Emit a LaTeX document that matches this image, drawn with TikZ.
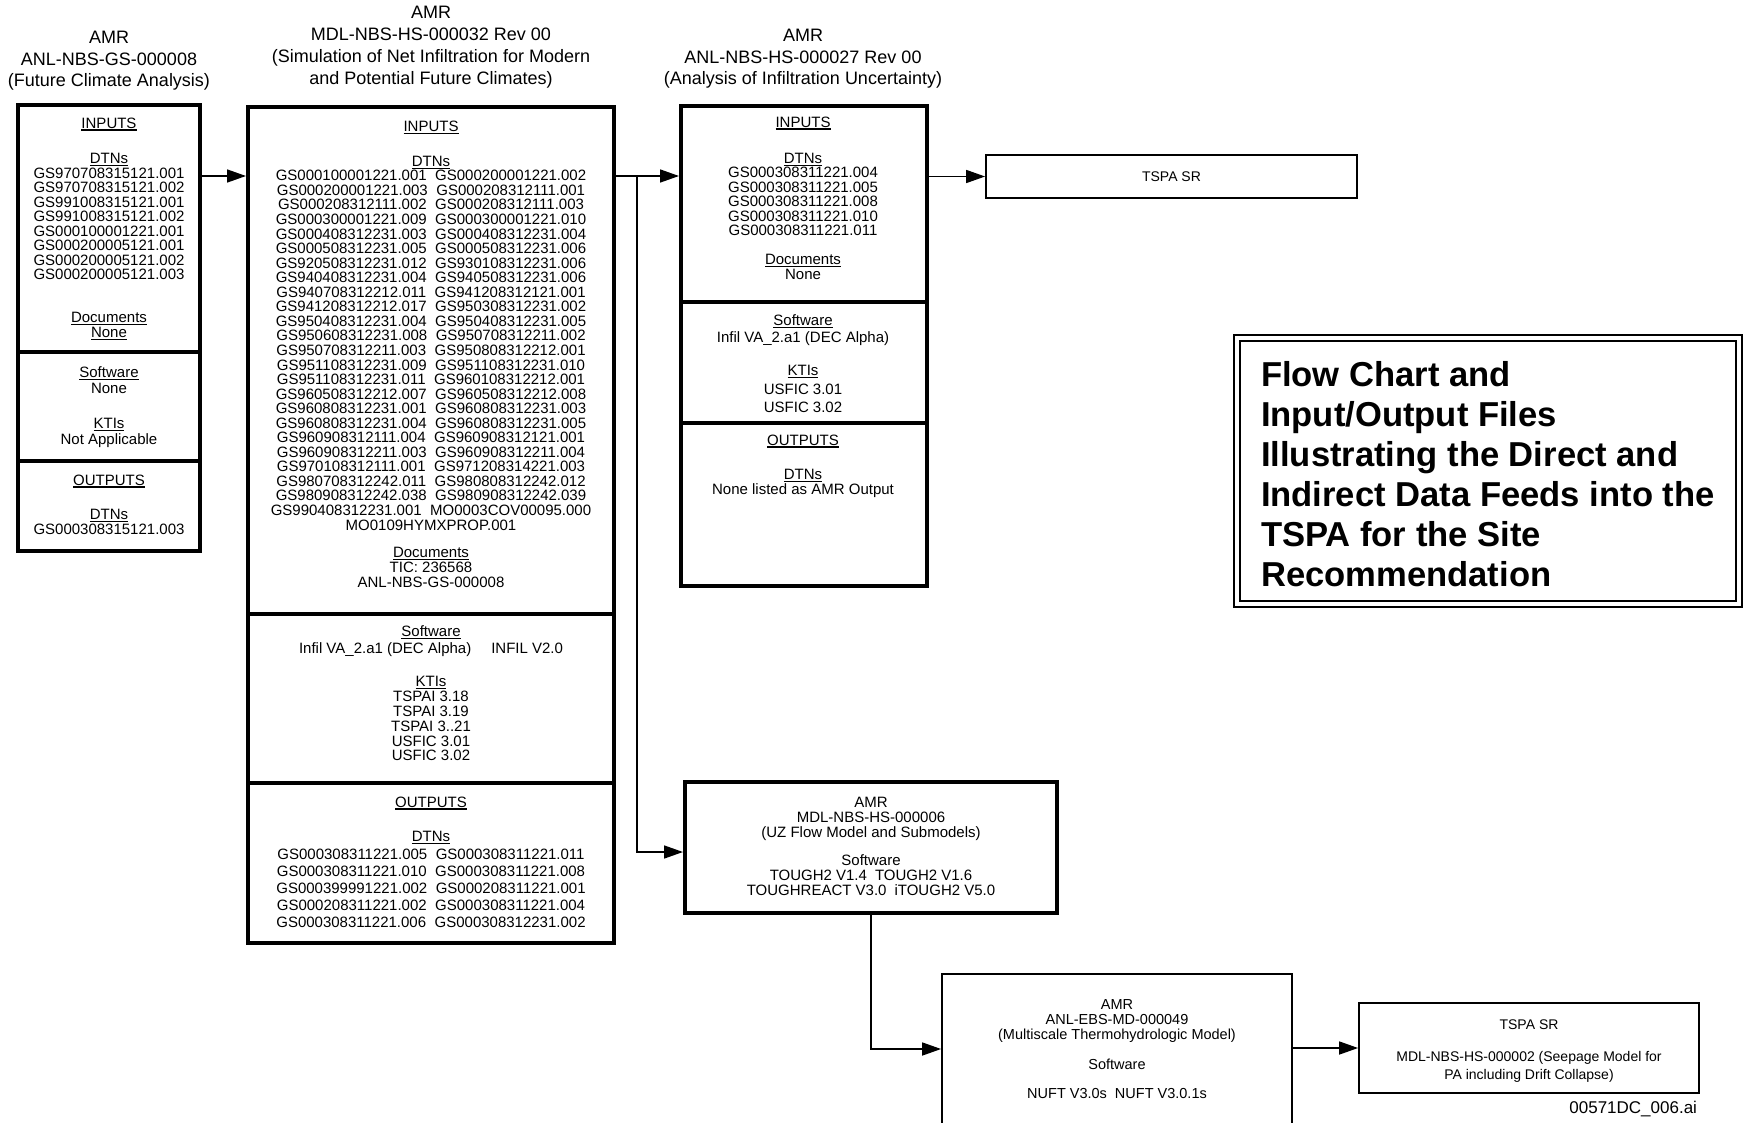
\documentclass[tikz,border=0pt]{standalone}
\usepackage{fontspec}
\setmainfont{Liberation Sans}
\usetikzlibrary{arrows.meta}
\newsavebox\ulbox
\newcommand\myul[1]{\sbox\ulbox{#1}\rlap{\usebox\ulbox}\rule[-2.5pt]{\wd\ulbox}{1.2pt}}
\newcommand\setfs[2]{\fontsize{#1}{#2}\selectfont\lineskiplimit=-100pt\relax}
\newcommand\gapd{\hspace{8.5pt}}
\tikzset{
  every node/.style={inner sep=0pt,outer sep=0pt},
  tbox/.style={draw, line width=4pt, outer sep=2pt},
  nbox/.style={draw, line width=1.8pt, outer sep=0.9pt},
  hd/.style={font=\setfs{18}{#1}, align=center, anchor=north},
  hd/.default=21.7,
  tx/.style={font=\setfs{15}{#1}, align=center, anchor=north},
  tx/.default=14.5,
  arr/.style={line width=1.6pt, -{Triangle[length=19pt,width=13pt]}},
}
\begin{document}
\begin{tikzpicture}[x=1pt,y=-1pt]
\useasboundingbox (0,0) rectangle (1744,1123);
\fill[white] (0,0) rectangle (1744,1123);

% ---- boxes
\node[tbox, minimum width=182pt, minimum height=247pt] (b1a) at (109,228.5) {};
\node[tbox, minimum width=182pt, minimum height=109pt] (b1b) at (109,406.5) {};
\node[tbox, minimum width=182pt, minimum height=90pt] (b1c) at (109,506) {};

\node[tbox, minimum width=366pt, minimum height=507pt] (b2a) at (431,360.5) {};
\node[tbox, minimum width=366pt, minimum height=169pt] (b2b) at (431,698.5) {};
\node[tbox, minimum width=366pt, minimum height=160pt] (b2c) at (431,863) {};

\node[tbox, minimum width=246pt, minimum height=196pt] (b3a) at (804,204) {};
\node[tbox, minimum width=246pt, minimum height=121pt] (b3b) at (804,362.5) {};
\node[tbox, minimum width=246pt, minimum height=163pt] (b3c) at (804,504.5) {};

\node[nbox, minimum width=371pt, minimum height=43pt, font=\setfs{14}{16}] (ts1) at (1171.5,176.5) {TSPA SR};
\node[tbox, minimum width=372pt, minimum height=131pt] (uz) at (871,847.5) {};
\node[nbox, minimum width=350pt, minimum height=176pt] (ms) at (1117,1062) {};
\node[nbox, minimum width=340pt, minimum height=90pt] (ts2) at (1529,1048) {};
\node[draw, double, line width=2pt, double distance=4pt, minimum width=502pt, minimum height=266pt] (tbx) at (1488,471) {};

% ---- connectors
\coordinate (r1) at (0,176);
\coordinate (br) at (637,176);
\coordinate (r2) at (0,1049);
\draw[arr] (b1a.east |- r1) -- (b2a.west |- r1);
\draw[arr] (b2a.east |- r1) -- (b3a.west |- r1);
\draw[arr] (br) |- ([yshift=-4.5pt]uz.west);
\draw[arr] (b3a.east |- ts1.west) -- (ts1.west);
\draw[arr] (uz.south) |- (ms.west |- r2);
\draw[arr] (ms.east |- ts2.west) -- (ts2.west);

% ---- headers
\node[hd] (h1) at (109,31) {AMR\\ANL-NBS-GS-000008\\(Future Climate Analysis)};
\node[hd=22] (h2) at (431,6) {AMR\\MDL-NBS-HS-000032 Rev 00\\(Simulation of Net Infiltration for Modern\\and Potential Future Climates)};
\node[hd] (h3) at (803,29) {AMR\\ANL-NBS-HS-000027 Rev 00\\(Analysis of Infiltration Uncertainty)};

% ---- box 1
\node[tx] (b1in) at (109,117.6) {\myul{INPUTS}};
\node[tx] (b1dt) at (109,153.6) {\myul{DTNs}\\GS970708315121.001\\GS970708315121.002\\GS991008315121.001\\GS991008315121.002\\GS000100001221.001\\GS000200005121.001\\GS000200005121.002\\GS000200005121.003};
\node[tx=15] (b1dc) at (109,312.6) {\myul{Documents}\\\myul{None}};
\node[tx=16] (b1sw) at (109,366.6) {\myul{Software}\\None};
\node[tx=16] (b1kt) at (109,418.6) {\myul{KTIs}\\Not Applicable};
\node[tx] (b1out) at (109,474.6) {\myul{OUTPUTS}};
\node[tx=15] (b1od) at (109,509) {\myul{DTNs}\\GS000308315121.003};

% ---- box 2
\node[tx] (b2in) at (431,121) {\myul{INPUTS}};
\node[tx=14.55] (b2dt) at (431,156) {\myul{DTNs}\\
GS000100001221.001\gapd GS000200001221.002\\
GS000200001221.003\gapd GS000208312111.001\\
GS000208312111.002\gapd GS000208312111.003\\
GS000300001221.009\gapd GS000300001221.010\\
GS000408312231.003\gapd GS000408312231.004\\
GS000508312231.005\gapd GS000508312231.006\\
GS920508312231.012\gapd GS930108312231.006\\
GS940408312231.004\gapd GS940508312231.006\\
GS940708312212.011\gapd GS941208312121.001\\
GS941208312212.017\gapd GS950308312231.002\\
GS950408312231.004\gapd GS950408312231.005\\
GS950608312231.008\gapd GS950708312211.002\\
GS950708312211.003\gapd GS950808312212.001\\
GS951108312231.009\gapd GS951108312231.010\\
GS951108312231.011\gapd GS960108312212.001\\
GS960508312212.007\gapd GS960508312212.008\\
GS960808312231.001\gapd GS960808312231.003\\
GS960808312231.004\gapd GS960808312231.005\\
GS960908312111.004\gapd GS960908312121.001\\
GS960908312211.003\gapd GS960908312211.004\\
GS970108312111.001\gapd GS971208314221.003\\
GS980708312242.011\gapd GS980808312242.012\\
GS980908312242.038\gapd GS980908312242.039\\
GS990408312231.001\gapd MO0003COV00095.000\\
MO0109HYMXPROP.001};
\node[tx=15] (b2dc) at (431,547.6) {\myul{Documents}\\TIC: 236568\\ANL-NBS-GS-000008};
\node[tx=17] (b2sw) at (431,625.6) {\myul{Software}\\Infil VA\_2.a1 (DEC Alpha)\hspace{20pt}INFIL V2.0};
\node[tx=14.8] (b2kt) at (431,676.6) {\myul{KTIs}\\TSPAI 3.18\\TSPAI 3.19\\TSPAI 3..21\\USFIC 3.01\\USFIC 3.02};
\node[tx] (b2out) at (431,796.6) {\myul{OUTPUTS}};
\node[tx=17.2] (b2od) at (431,831.6) {\myul{DTNs}\\
GS000308311221.005\gapd GS000308311221.011\\
GS000308311221.010\gapd GS000308311221.008\\
GS000399991221.002\gapd GS000208311221.001\\
GS000208311221.002\gapd GS000308311221.004\\
GS000308311221.006\gapd GS000308312231.002};

% ---- box 3
\node[tx] (b3in) at (803,116.6) {\myul{INPUTS}};
\node[tx] (b3dt) at (803,153) {\myul{DTNs}\\GS000308311221.004\\GS000308311221.005\\GS000308311221.008\\GS000308311221.010\\GS000308311221.011};
\node[tx=15] (b3dc) at (803,254.6) {\myul{Documents}\\None};
\node[tx=17.5] (b3sw) at (803,314.6) {\myul{Software}\\Infil VA\_2.a1 (DEC Alpha)};
\node[tx=18.5] (b3kt) at (803,365.6) {\myul{KTIs}\\USFIC 3.01\\USFIC 3.02};
\node[tx] (b3out) at (803,434.6) {\myul{OUTPUTS}};
\node[tx] (b3od) at (803,469.6) {\myul{DTNs}\\None listed as AMR Output};

% ---- UZ box
\node[tx=15] (uz1) at (871,797.5) {AMR\\MDL-NBS-HS-000006\\(UZ Flow Model and Submodels)};
\node[tx=15] (uz2) at (871,855) {Software\\TOUGH2 V1.4\hspace{8pt}TOUGH2 V1.6\\TOUGHREACT V3.0\hspace{8pt}iTOUGH2 V5.0};

% ---- multiscale box
\node[tx, font=\setfs{14.5}{15}] (ms1) at (1117,1000) {AMR\\ANL-EBS-MD-000049\\(Multiscale Thermohydrologic Model)};
\node[tx, font=\setfs{14.5}{15}] (ms2) at (1117,1059) {Software};
\node[tx, font=\setfs{14.5}{15}] (ms3) at (1117,1088) {NUFT V3.0s\hspace{8pt}NUFT V3.0.1s};

% ---- TSPA SR bottom
\node[tx, font=\setfs{14}{18.5}] (ts2a) at (1529,1019.5) {TSPA SR};
\node[tx, font=\setfs{14}{18.5}] (ts2b) at (1529,1051) {MDL-NBS-HS-000002 (Seepage Model for\\PA including Drift Collapse)};

% ---- title
\node[anchor=north west, align=left, font=\setfs{34.6}{40}\bfseries] (ttl) at (1261,361.5) {Flow Chart and\\Input/Output Files\\Illustrating the Direct and\\Indirect Data Feeds into the\\TSPA for the Site\\Recommendation};

\node[anchor=north east, font=\setfs{17}{20}] (fn) at (1697,1101) {00571DC\_006.ai};
\end{tikzpicture}
\end{document}
